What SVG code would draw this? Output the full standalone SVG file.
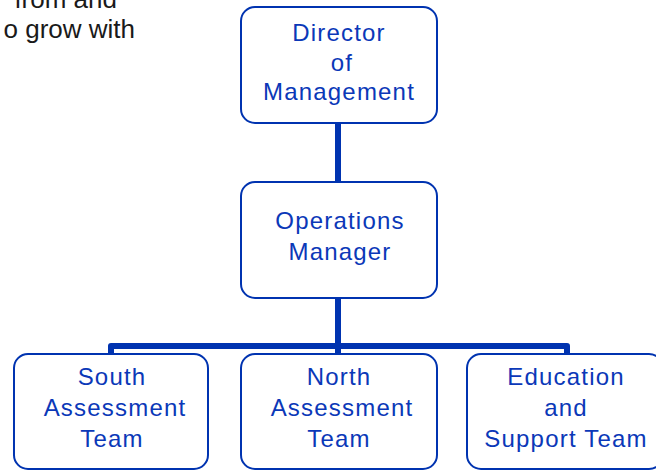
<svg xmlns="http://www.w3.org/2000/svg" width="656" height="471" viewBox="0 0 656 471">
  <style>
    .box { fill: #ffffff; stroke: #0033b0; stroke-width: 2; }
    .lbl { font-family: "Liberation Sans", Arial, sans-serif; font-size: 24px; fill: #0b38b8; text-anchor: middle; letter-spacing: 1.2px; }
    .wire { fill: none; stroke: #0033b0; stroke-width: 6; stroke-linecap: round; stroke-linejoin: round; }
    .body { font-family: "Liberation Sans", Arial, sans-serif; font-size: 26px; fill: #1a1a1a; text-anchor: end; }
  </style>

  <!-- fragment of surrounding paragraph text -->
  <g id="body-text">
    <text class="body" x="117" y="8">from and</text>
    <text class="body" x="135" y="38">o grow with</text>
  </g>

  <!-- connectors -->
  <g id="connectors">
    <line class="wire" x1="338" y1="123" x2="338" y2="183"/>
    <line class="wire" x1="338" y1="298" x2="338" y2="355"/>
    <polyline class="wire" points="111,354 111,346 567,346 567,354"/>
  </g>

  <g id="director">
    <rect class="box" x="241" y="7" width="196" height="116" rx="14"/>
    <text class="lbl" x="339" y="41">Director</text>
    <text class="lbl" x="342" y="71">of</text>
    <text class="lbl" x="339" y="100">Management</text>
  </g>

  <g id="operations">
    <rect class="box" x="241" y="182" width="196" height="116" rx="14"/>
    <text class="lbl" x="340" y="229">Operations</text>
    <text class="lbl" x="340" y="260">Manager</text>
  </g>

  <g id="south">
    <rect class="box" x="14" y="354" width="194" height="115" rx="14"/>
    <text class="lbl" x="112" y="385">South</text>
    <text class="lbl" x="115" y="416">Assessment</text>
    <text class="lbl" x="112" y="447">Team</text>
  </g>

  <g id="north">
    <rect class="box" x="241" y="354" width="196" height="115" rx="14"/>
    <text class="lbl" x="339" y="385">North</text>
    <text class="lbl" x="342" y="416">Assessment</text>
    <text class="lbl" x="339" y="447">Team</text>
  </g>

  <g id="education">
    <rect class="box" x="467" y="354" width="196" height="115" rx="14"/>
    <text class="lbl" x="566" y="385">Education</text>
    <text class="lbl" x="566" y="416">and</text>
    <text class="lbl" x="566" y="447">Support Team</text>
  </g>
</svg>
